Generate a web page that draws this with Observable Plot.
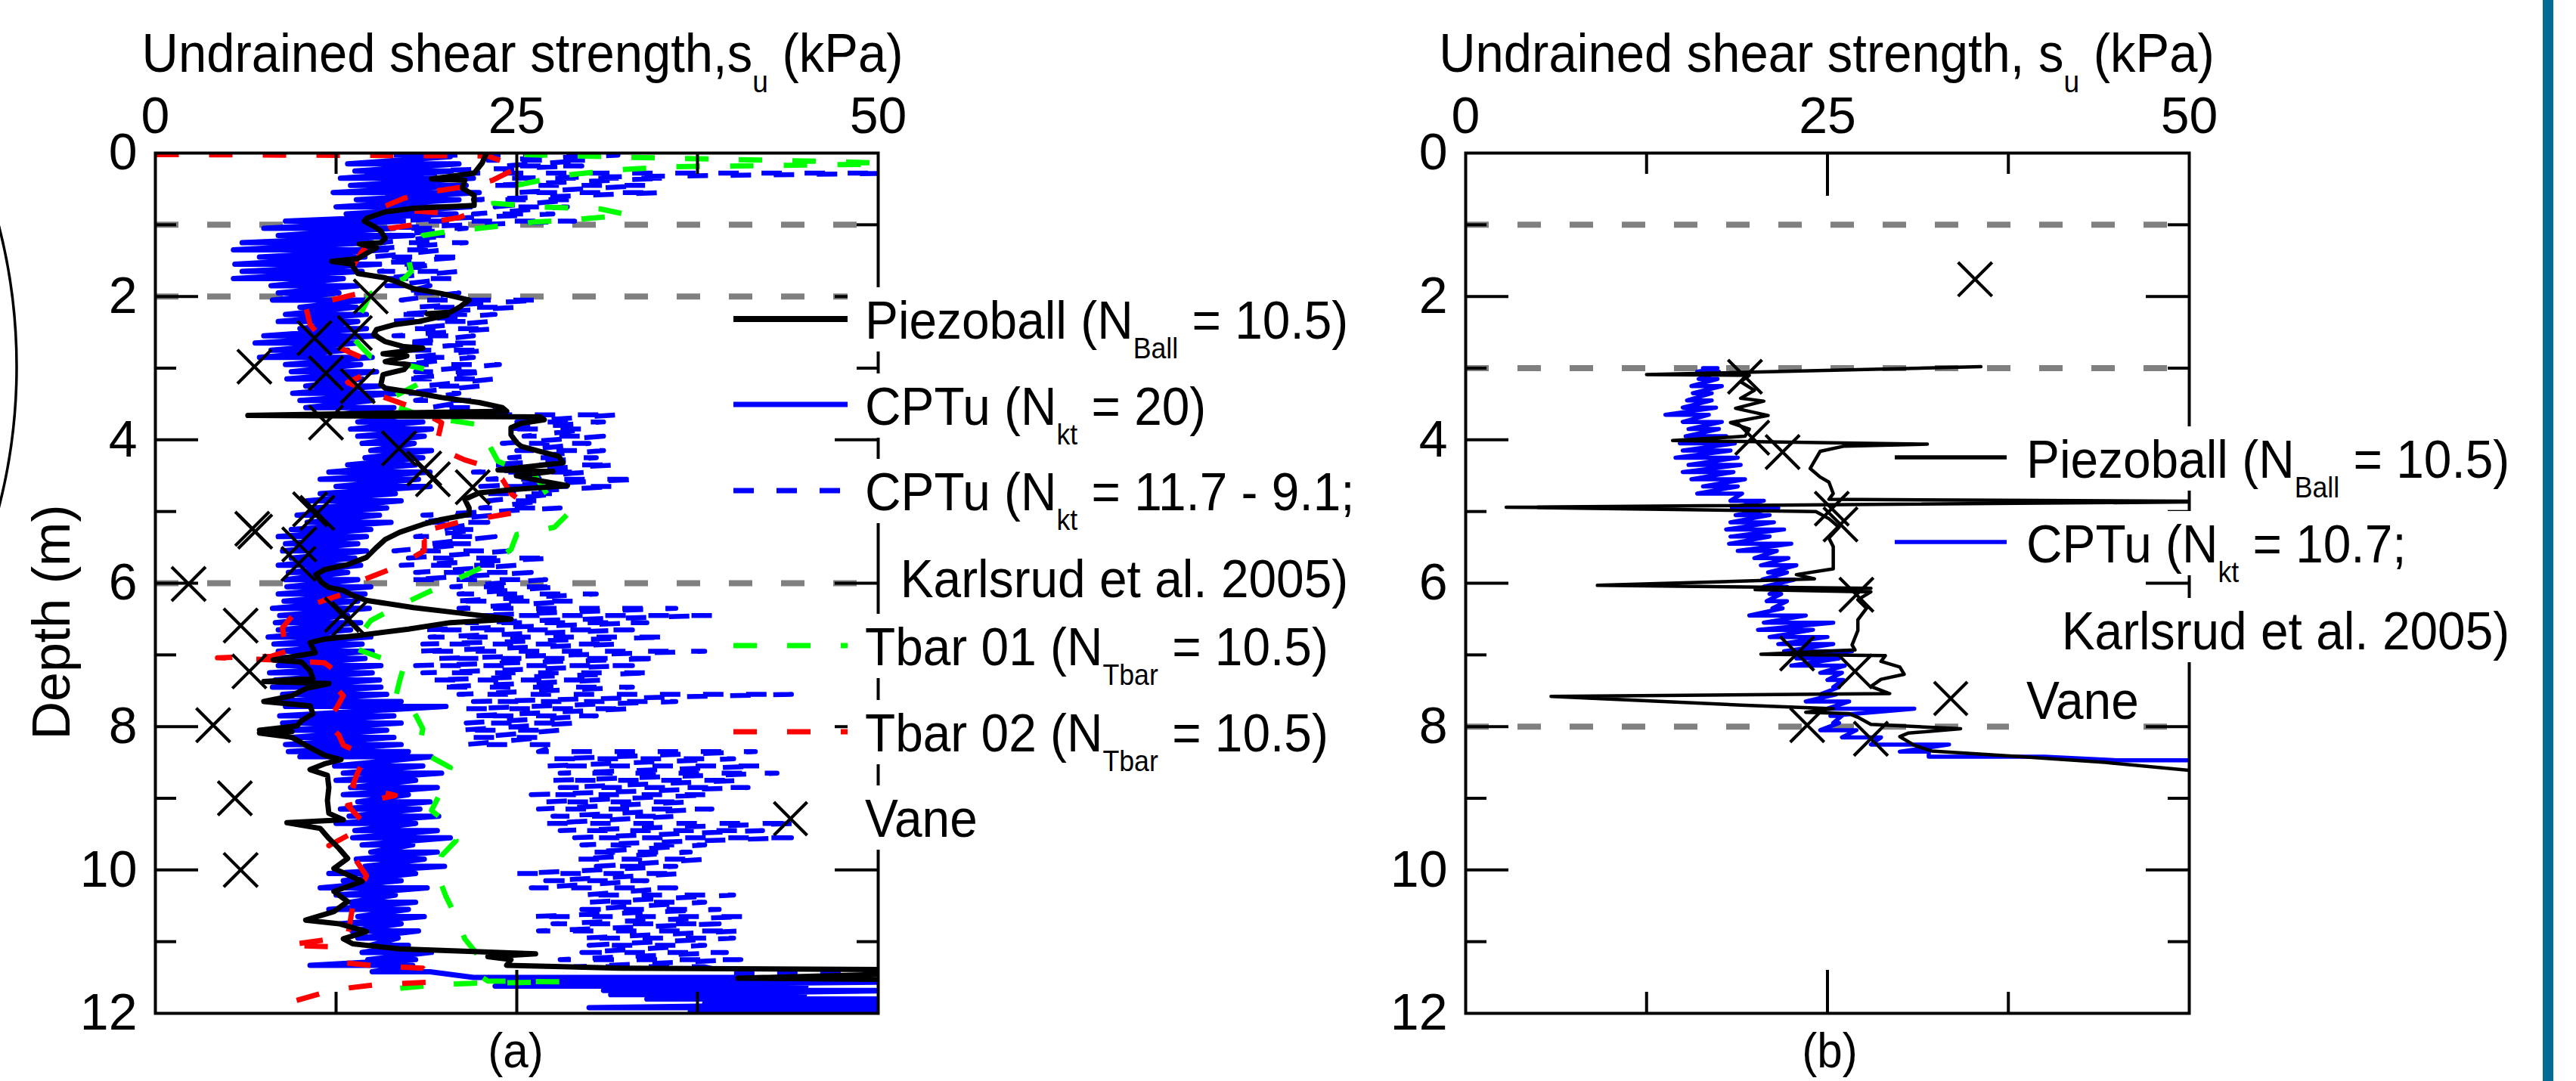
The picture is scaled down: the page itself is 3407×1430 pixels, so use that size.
<!DOCTYPE html>
<html><head><meta charset="utf-8">
<script src="https://cdn.jsdelivr.net/npm/d3@7"></script>
<script src="https://cdn.jsdelivr.net/npm/@observablehq/plot@0.6"></script>
<style>
html,body{margin:0;padding:0;background:#fff;overflow:hidden;}
#wrap{position:relative;width:3407px;height:1430px;overflow:hidden;background:#fff;}
#wrap svg{position:absolute;top:0;left:0;}
</style></head><body><div id="wrap"></div>
<script>
// ---------- tick labels / reference depths ----------
const xTicksMajor = [0, 25, 50];
const xTicksMinor = [12.5, 37.5];
const yTicksMajor = [0, 2, 4, 6, 8, 10, 12];
const yTicksMinor = [1, 3, 5, 7, 9, 11];
const grayDepthsA = [1, 2, 6];
const grayDepthsB = [1, 3, 8];

// ---------- panel (a) ----------
// Piezoball (N_Ball = 10.5): [su kPa, depth m]
const piezoA = [[22.9,0.0],[22.6,0.14],[22.05,0.28],[19.1,0.36],[21.4,0.38],[21.25,0.49],[22.05,0.59],[22.05,0.73],[17.85,0.77],[15.9,0.82],[14.6,0.91],[14.45,0.95],[15.1,1.02],[15.6,1.09],[15.9,1.19],[15.6,1.25],[14.1,1.27],[15.3,1.32],[14.6,1.40],[14.0,1.47],[12.2,1.51],[13.65,1.55],[13.65,1.58],[14.0,1.68],[15.9,1.74],[16.6,1.79],[17.85,1.89],[19.8,1.96],[21.7,2.05],[21.1,2.14],[20.4,2.22],[18.8,2.24],[20.2,2.26],[18.2,2.35],[16.6,2.39],[15.3,2.46],[15.1,2.53],[15.9,2.63],[17.2,2.70],[18.5,2.72],[16.9,2.77],[15.75,2.80],[17.4,2.83],[15.9,2.91],[17.5,2.95],[17.2,3.02],[15.75,3.09],[15.6,3.23],[15.9,3.28],[17.85,3.34],[19.8,3.41],[22.4,3.48],[24.0,3.55],[24.3,3.60],[6.4,3.66],[26.6,3.68],[26.9,3.72],[25.3,3.77],[24.6,3.83],[24.6,3.93],[25.0,4.04],[25.3,4.09],[26.6,4.16],[27.9,4.23],[28.2,4.32],[23.7,4.42],[27.5,4.44],[24.97,4.50],[26.6,4.57],[28.5,4.64],[24.97,4.69],[22.4,4.74],[21.4,4.83],[21.7,4.95],[21.7,5.04],[19.8,5.11],[18.5,5.18],[16.9,5.29],[15.9,5.39],[15.3,5.50],[14.6,5.64],[13.3,5.74],[11.7,5.81],[11.1,5.88],[11.5,5.99],[12.0,6.06],[13.0,6.10],[13.65,6.17],[14.6,6.24],[17.85,6.34],[20.8,6.41],[24.6,6.50],[20.4,6.55],[17.5,6.64],[14.0,6.73],[11.7,6.78],[10.7,6.83],[11.06,6.97],[8.15,7.07],[10.1,7.10],[10.7,7.22],[10.9,7.33],[7.5,7.37],[12.0,7.40],[10.4,7.47],[9.44,7.57],[7.5,7.65],[10.7,7.71],[10.9,7.82],[10.1,7.92],[9.8,7.99],[7.2,8.05],[9.44,8.07],[7.2,8.09],[9.44,8.15],[10.4,8.26],[11.7,8.40],[12.84,8.46],[11.7,8.52],[10.7,8.60],[11.9,8.68],[12.0,8.85],[11.9,9.03],[12.0,9.21],[13.0,9.30],[9.1,9.34],[11.4,9.42],[12.0,9.56],[12.7,9.70],[13.3,9.84],[12.35,9.98],[14.3,10.16],[12.35,10.30],[13.3,10.44],[12.35,10.58],[10.4,10.70],[12.7,10.75],[14.6,10.86],[13.0,10.96],[13.65,11.03],[16.9,11.10],[22.4,11.14],[26.3,11.17],[23.0,11.21],[24.6,11.25],[24.3,11.33],[32.1,11.37],[60,11.40],[40.3,11.51],[60,11.54]];

// CPTu (N_kt = 20): swing readings [depth, low su, high su]
const cptu20A = [[0.05,17.5,20.4],[0.15,13.3,21.0],[0.25,13.8,20.5],[0.35,12.8,22.0],[0.45,13.5,21.5],[0.55,12.3,22.4],[0.65,13.9,21.0],[0.75,12.5,21.8],[0.85,13.2,20.8],[0.95,9.0,17.0],[1.05,7.5,16.5],[1.15,8.5,17.8],[1.25,6.0,15.0],[1.35,5.4,16.0],[1.45,7.2,14.5],[1.55,5.5,15.5],[1.65,6.0,14.3],[1.75,5.4,13.0],[1.85,8.0,14.0],[1.95,8.5,12.7],[2.05,8.1,14.6],[2.15,10.0,13.9],[2.25,9.0,14.6],[2.35,8.5,14.0],[2.45,10.0,14.6],[2.55,7.5,15.3],[2.65,6.9,14.0],[2.75,8.0,13.3],[2.85,7.2,15.0],[2.95,9.0,14.2],[3.05,9.4,15.3],[3.15,9.1,14.3],[3.25,10.4,15.5],[3.35,9.5,16.9],[3.45,10.0,15.0],[3.55,10.4,16.5],[3.65,12.5,17.5],[3.75,14.0,18.5],[3.85,13.5,19.1],[3.95,14.0,18.6],[4.05,14.3,17.9],[4.15,14.9,19.1],[4.25,14.5,18.5],[4.35,13.3,18.0],[4.45,12.0,19.0],[4.55,11.4,18.2],[4.65,12.5,19.0],[4.75,11.4,16.6],[4.85,10.5,17.0],[4.95,11.0,16.0],[5.05,9.8,15.5],[5.15,10.5,16.3],[5.25,9.4,14.9],[5.35,8.5,14.6],[5.45,9.0,14.0],[5.55,8.8,14.6],[5.65,9.4,13.8],[5.75,8.5,14.2],[5.85,9.2,13.3],[5.95,9.0,14.0],[6.05,9.1,14.9],[6.15,8.5,14.5],[6.25,8.9,14.0],[6.35,8.1,14.8],[6.45,8.6,13.3],[6.55,8.3,14.2],[6.65,8.5,13.5],[6.75,7.8,14.9],[6.85,8.2,14.3],[6.95,8.5,15.0],[7.05,8.0,14.5],[7.15,8.5,15.6],[7.25,7.9,15.0],[7.35,8.3,15.5],[7.45,8.1,15.6],[7.55,8.8,16.0],[7.65,8.4,17.0],[7.72,9.0,20.1],[7.85,8.6,16.5],[7.95,8.8,17.0],[8.05,8.8,16.0],[8.15,9.4,16.5],[8.25,9.0,17.0],[8.35,9.2,17.5],[8.42,10.0,19.1],[8.55,12.4,18.5],[8.65,13.0,19.8],[8.75,12.5,18.0],[8.85,13.5,19.5],[8.95,13.0,17.5],[9.05,14.0,19.0],[9.15,12.8,18.3],[9.25,13.4,19.6],[9.35,12.5,18.0],[9.45,13.8,19.5],[9.55,13.65,20.4],[9.65,14.3,17.8],[9.75,14.9,19.5],[9.85,13.9,18.6],[9.95,14.5,20.0],[10.05,12.0,18.0],[10.15,13.0,17.0],[10.25,11.4,18.8],[10.35,12.5,16.6],[10.45,13.5,18.0],[10.55,12.0,17.5],[10.65,14.0,18.6],[10.75,12.8,17.0],[10.85,13.6,18.2],[10.95,14.0,16.8],[11.05,14.9,17.5],[11.15,14.3,19.1],[11.25,14.7,18.0],[11.33,10.7,17.8],[11.42,15.0,19.0],[11.5,22.0,40.0],[11.56,24.0,52.0],[11.62,23.5,45.0],[11.68,31.0,52.0],[11.74,31.5,44.9],[11.8,34.0,52.0],[11.86,38.0,52.0],[11.92,30.0,52.0],[11.98,37.0,52.0]];

// CPTu (N_kt = 11.7 - 9.1; Karlsrud et al. 2005): [depth, low su, high su]
const cptuKarlA = [[0.03,16.5,32.0],[0.1,23.0,30.0],[0.18,24.0,29.5],[0.28,14.0,52.0],[0.35,24.0,35.5],[0.45,23.0,34.0],[0.55,25.0,35.0],[0.65,22.0,29.0],[0.75,23.5,28.5],[0.85,22.0,27.5],[0.95,16.0,29.0],[1.05,15.0,21.5],[1.15,16.0,20.5],[1.25,15.5,21.5],[1.35,14.0,20.0],[1.45,15.0,21.5],[1.55,14.5,19.5],[1.65,15.5,21.0],[1.75,15.5,20.5],[1.85,16.0,19.0],[1.95,17.0,21.0],[2.05,17.0,26.7],[2.15,18.0,25.0],[2.25,16.5,23.5],[2.35,16.0,23.0],[2.45,17.5,23.5],[2.55,16.5,22.0],[2.65,17.0,22.5],[2.75,16.5,23.0],[2.85,17.5,22.0],[2.95,17.0,23.8],[3.05,18.0,23.0],[3.15,17.0,23.5],[3.25,18.5,22.5],[3.35,17.0,21.0],[3.45,18.0,22.0],[3.55,19.0,22.5],[3.65,24.5,32.0],[3.75,25.0,31.0],[3.85,24.0,30.0],[3.95,25.5,31.0],[4.05,24.0,30.0],[4.15,25.0,31.0],[4.25,24.5,30.5],[4.35,23.0,32.0],[4.45,22.0,30.0],[4.55,23.0,33.5],[4.65,22.5,32.0],[4.75,22.5,28.0],[4.85,23.0,27.0],[4.95,22.5,28.0],[5.05,18.5,23.5],[5.15,18.0,23.0],[5.25,19.5,22.5],[5.35,18.0,23.5],[5.45,19.0,22.0],[5.55,16.5,24.5],[5.65,17.5,27.5],[5.75,17.0,25.0],[5.85,18.0,26.0],[5.95,17.5,27.0],[6.05,20.5,28.0],[6.15,21.0,30.5],[6.25,20.5,29.0],[6.35,21.0,36.0],[6.45,22.0,38.5],[6.55,21.5,34.0],[6.65,18.5,33.0],[6.75,19.0,35.5],[6.85,18.5,32.0],[6.95,18.0,38.0],[7.05,19.5,35.0],[7.15,18.0,33.0],[7.25,18.5,34.5],[7.35,19.0,31.0],[7.45,19.5,33.0],[7.55,21.0,44.0],[7.65,22.0,36.0],[7.75,21.5,33.0],[7.85,22.0,30.5],[7.95,21.5,29.0],[8.05,21.0,28.0],[8.15,22.0,27.0],[8.25,21.5,28.0],[8.35,26.5,41.5],[8.45,27.5,40.0],[8.55,27.0,42.0],[8.65,28.0,43.0],[8.75,27.5,40.5],[8.85,28.0,41.0],[8.95,26.0,38.5],[9.05,27.0,37.0],[9.15,26.5,38.5],[9.25,27.5,36.0],[9.35,27.0,44.5],[9.45,28.0,42.0],[9.55,29.0,44.0],[9.65,29.5,38.0],[9.75,30.0,37.0],[9.85,29.0,38.0],[9.95,30.5,36.0],[10.05,25.0,36.5],[10.15,27.0,34.0],[10.25,26.0,36.0],[10.35,29.5,40.0],[10.45,30.0,38.0],[10.55,29.5,39.0],[10.65,26.0,41.0],[10.75,27.5,39.0],[10.85,26.5,40.5],[10.95,29.5,40.0],[11.05,30.0,38.0],[11.15,29.5,39.5],[11.25,28.0,40.5],[11.35,29.0,38.0],[11.45,40.0,60.0]];

// Tbar 01 (N_Tbar = 10.5): [su, depth]
const tbar01A = [[25.5,0.02],[33,0.06],[40,0.09],[47,0.12],[52,0.15],[36,0.19],[32.2,0.23],[28.3,0.31],[25.0,0.45],[23.4,0.60],[23.4,0.70],[26.5,0.75],[30.8,0.78],[32.7,0.86],[29.0,0.93],[26.3,0.96],[22.4,1.05],[20.4,1.09],[18.5,1.15],[17.8,1.30],[17.5,1.47],[17.7,1.65],[17.2,1.75],[14.9,1.96],[14.2,2.24],[13.65,2.58],[14.9,2.84],[19.2,3.04],[18.1,3.23],[15.8,3.47],[18.5,3.67],[22.4,3.79],[23.0,4.04],[23.7,4.30],[26.3,4.51],[27.2,4.79],[28.5,5.04],[27.6,5.22],[25.0,5.32],[24.6,5.53],[23.0,5.74],[21.1,5.92],[18.8,6.13],[16.9,6.31],[14.9,6.52],[14.0,6.76],[13.65,6.90],[15.6,7.04],[17.2,7.15],[16.9,7.36],[16.6,7.61],[17.85,7.78],[18.5,8.03],[18.2,8.33],[20.4,8.57],[19.8,8.89],[19.1,9.17],[20.4,9.38],[20.8,9.59],[19.8,9.80],[19.5,10.05],[20.1,10.37],[20.8,10.65],[21.4,10.96],[22.4,11.21],[22.05,11.42],[23.0,11.55],[28.0,11.56],[22.0,11.58],[19.8,11.60],[16.9,11.65],[16.2,11.9]];

// Tbar 02 (N_Tbar = 10.5): [su, depth]
const tbar02A = [[0,0.02],[23.0,0.04],[23.4,0.07],[25.2,0.20],[24.3,0.28],[23.3,0.38],[22.0,0.45],[19.1,0.54],[17.2,0.63],[15.9,0.74],[17.5,0.80],[21.5,0.86],[21.0,0.90],[18.5,0.98],[16.2,1.05],[15.0,1.20],[14.2,1.40],[13.6,1.60],[13.65,1.68],[14.0,1.96],[10.4,2.14],[10.7,2.39],[11.7,2.63],[13.0,2.74],[14.6,2.88],[14.9,3.05],[13.3,3.20],[15.3,3.37],[17.85,3.55],[19.8,3.76],[19.5,4.02],[19.6,4.12],[21.4,4.28],[22.7,4.36],[24.0,4.55],[24.6,4.75],[25.6,4.90],[25.3,5.0],[21.0,5.15],[18.0,5.30],[18.6,5.40],[18.6,5.55],[16.6,5.78],[14.4,5.95],[13.0,6.15],[10.8,6.30],[9.5,6.45],[8.8,6.62],[8.9,6.78],[9.8,6.90],[8.0,7.02],[4.3,7.04],[8.2,7.07],[11.7,7.11],[12.7,7.26],[12.35,7.43],[13.0,7.57],[12.5,7.75],[11.7,7.92],[12.5,8.08],[12.7,8.12],[13.0,8.26],[14.6,8.40],[14.0,8.64],[13.65,8.82],[16.6,8.96],[13.3,9.10],[14.6,9.38],[12.0,9.66],[13.65,9.80],[14.6,10.08],[13.65,10.51],[13.3,10.93],[9.1,11.05],[12.0,11.07],[12.35,11.28],[14.9,11.33],[18.5,11.37],[19.5,11.56],[15.3,11.60],[12.35,11.67],[9.4,11.84],[9.6,11.95]];

// Vane: [su, depth]
const vaneA = [[14.9,2.0],[11.0,2.58],[13.8,2.51],[6.85,2.98],[11.8,3.07],[14.0,3.25],[11.8,3.76],[16.85,4.12],[18.6,4.40],[19.2,4.55],[21.95,4.66],[10.7,4.97],[11.2,5.02],[6.7,5.24],[6.9,5.28],[9.95,5.46],[9.9,5.73],[2.3,6.01],[12.9,6.44],[13.4,6.50],[5.9,6.59],[6.5,7.23],[4.0,7.98],[5.5,9.0],[5.9,10.0]];

// ---------- panel (b) ----------
const piezoB = [[35.6,2.98],[12.5,3.09],[19.6,3.10],[19.0,3.19],[19.95,3.31],[19.0,3.42],[20.6,3.46],[18.65,3.56],[20.9,3.66],[18.3,3.76],[19.6,3.85],[19.3,3.95],[14.3,4.01],[31.9,4.06],[26.1,4.09],[24.5,4.16],[24.15,4.28],[23.8,4.40],[24.5,4.52],[25.1,4.59],[25.4,4.75],[25.1,4.83],[55,4.86],[2.8,4.94],[24.2,5.00],[25.1,5.10],[25.8,5.22],[25.1,5.37],[25.4,5.49],[25.4,5.69],[25.4,5.80],[22.85,5.88],[24.1,5.94],[9.1,6.03],[28.0,6.07],[20.0,6.09],[28.0,6.12],[27.1,6.23],[27.7,6.35],[27.1,6.51],[27.1,6.66],[26.7,6.86],[26.9,6.93],[20.4,6.99],[29.0,7.01],[28.7,7.09],[30.0,7.17],[30.3,7.27],[28.7,7.34],[28.0,7.44],[29.3,7.54],[5.9,7.58],[12.5,7.64],[19.0,7.70],[25.4,7.75],[23.5,7.80],[26.5,7.82],[27.1,7.87],[28.0,7.97],[34.2,8.03],[30.6,8.09],[30.0,8.14],[31.0,8.26],[32.2,8.34],[38.4,8.42],[44.2,8.50],[50.0,8.61],[52,8.65]];

// CPTu (N_kt = 10.7): [depth, low su, high su]
const cptuB = [[3.0,16.4,17.4],[3.05,16.0,17.5],[3.15,16.1,17.4],[3.25,15.6,17.7],[3.35,15.7,17.0],[3.45,15.3,17.0],[3.55,15.0,17.3],[3.65,13.8,16.8],[3.75,15.0,17.7],[3.85,15.4,17.5],[3.95,15.2,18.0],[4.05,14.8,18.6],[4.15,15.0,18.3],[4.25,14.5,18.8],[4.35,15.4,19.0],[4.45,15.0,18.5],[4.55,15.6,19.3],[4.65,16.4,18.8],[4.75,16.0,19.1],[4.85,18.3,20.6],[4.95,18.4,21.6],[5.05,18.65,21.0],[5.15,18.3,21.3],[5.25,18.0,22.0],[5.35,18.3,21.0],[5.45,18.2,22.5],[5.55,18.8,21.5],[5.65,19.95,22.3],[5.75,20.4,22.85],[5.85,20.9,22.2],[5.95,20.5,22.7],[6.05,20.6,22.2],[6.15,21.0,21.8],[6.25,20.8,22.2],[6.35,21.2,21.9],[6.45,19.6,23.5],[6.55,20.6,25.4],[6.65,20.2,24.0],[6.75,21.0,25.0],[6.85,21.6,25.4],[6.95,22.0,26.7],[7.05,22.85,25.8],[7.15,22.5,26.2],[7.25,24.5,26.0],[7.35,25.0,26.1],[7.45,25.4,25.8],[7.55,24.5,25.6],[7.65,23.5,26.5],[7.75,25.0,31.0],[7.85,25.2,26.0],[7.95,25.4,25.8],[8.05,24.5,27.0],[8.15,26.0,28.7],[8.25,28.0,33.4],[8.35,30.0,32.0],[8.42,32.0,40.0],[8.47,45.0,52.0]];

const vaneB = [[35.2,1.76],[19.3,3.12],[19.8,3.97],[21.9,4.17],[25.3,4.96],[25.9,5.18],[27.0,6.16],[22.9,6.98],[26.9,7.23],[23.6,7.98],[28.0,8.17]];

// ---------- layout / style ----------
const W = 3407, H = 1430;
const FONT = "'Liberation Sans', Arial, Helvetica, sans-serif";
const frameTop = 202, frameBottom = 1340;
const BLUE = "#0000ff", GREEN = "#00ff00", RED = "#ff0000", GRAY = "#808080";
const MAJOR = 57, MINOR = 28;
const wrap = document.getElementById("wrap");
const zig = rows => rows.flatMap(([d, lo, hi]) => [[lo, d], [hi, d]]);

function panel(left, right, gray, lines, vane) {
  const pxPerM = (frameBottom - frameTop) / 12;
  const pxPerK = (right - left) / 50;
  const innerX = xTicksMajor.filter(v => v > 0 && v < 50);
  const innerY = yTicksMajor.filter(v => v > 0 && v < 12);
  const tk = {stroke: "black", strokeWidth: 4, strokeLinecap: "butt"};
  const lineMarks = lines.map(s => Plot.line(s.data, {
    x: d => d[0], y: d => d[1], stroke: s.stroke, strokeWidth: s.sw,
    strokeDasharray: s.dash, strokeLinecap: s.dash ? "butt" : "round", strokeLinejoin: "round", clip: true
  }));
  return Plot.plot({
    width: W, height: H,
    marginLeft: left, marginRight: W - right, marginTop: frameTop, marginBottom: H - frameBottom,
    x: {domain: [0, 50], axis: "top", ticks: xTicksMajor, tickSize: 0, tickPadding: 27, label: null},
    y: {domain: [0, 12], reverse: true, ticks: yTicksMajor, tickSize: 0, tickPadding: 24, label: null},
    style: {background: "transparent", fontFamily: FONT, fontSize: "68px", color: "black", overflow: "visible"},
    marks: [
      Plot.ruleY(gray, {stroke: GRAY, strokeWidth: 8, strokeDasharray: "31,38", strokeLinecap: "butt"}),
      ...lineMarks,
      Plot.dot(vane, {x: d => d[0], y: d => d[1], symbol: "times", r: 20.5, stroke: "black", strokeWidth: 4.2}),
      Plot.ruleX(innerX, {y1: 0, y2: MAJOR / pxPerM, ...tk}),
      Plot.ruleX(innerX, {y1: 12, y2: 12 - MAJOR / pxPerM, ...tk}),
      Plot.ruleX(xTicksMinor, {y1: 0, y2: MINOR / pxPerM, ...tk}),
      Plot.ruleX(xTicksMinor, {y1: 12, y2: 12 - MINOR / pxPerM, ...tk}),
      Plot.ruleY(innerY, {x1: 0, x2: MAJOR / pxPerK, ...tk}),
      Plot.ruleY(innerY, {x1: 50, x2: 50 - MAJOR / pxPerK, ...tk}),
      Plot.ruleY(yTicksMinor, {x1: 0, x2: MINOR / pxPerK, ...tk}),
      Plot.ruleY(yTicksMinor, {x1: 50, x2: 50 - MINOR / pxPerK, ...tk}),
      Plot.frame({stroke: "black", strokeWidth: 4})
    ]
  });
}

wrap.appendChild(panel(205, 1161, grayDepthsA, [
  {data: zig(cptuKarlA), stroke: BLUE, sw: 6.5, dash: "27,30"},
  {data: zig(cptu20A), stroke: BLUE, sw: 7},
  {data: tbar01A, stroke: GREEN, sw: 7, dash: "31,40"},
  {data: tbar02A, stroke: RED, sw: 7, dash: "31,40"},
  {data: piezoA, stroke: "black", sw: 7}
], vaneA));

wrap.appendChild(panel(1938, 2895, grayDepthsB, [
  {data: zig(cptuB), stroke: BLUE, sw: 5.5},
  {data: piezoB, stroke: "black", sw: 4.5}
], vaneB));

// ---------- overlay: titles, labels, legends ----------
const ov = d3.select(wrap).append("svg").attr("width", W).attr("height", H).attr("font-family", FONT);
const gBox = ov.append("g");
const gTxt = ov.append("g");

function rich(x, y, parts, {size = 70, sub = 38, shift = 26, anchor = "start", sx = 0.94} = {}) {
  const t = gTxt.append("text").attr("transform", `translate(${x},${y}) scale(${sx},1)`)
    .attr("text-anchor", anchor).attr("font-size", size).attr("fill", "black");
  let down = false;
  for (const p of parts) {
    if (typeof p === "string") { const s = t.append("tspan").text(p); if (down) s.attr("dy", -shift); down = false; }
    else { t.append("tspan").attr("font-size", sub).attr("dy", shift).text(p.sub); down = true; }
  }
  const bb = t.node().getBBox();
  return {left: x + bb.x * sx, right: x + (bb.x + bb.width) * sx};
}
function box(x0, x1, base) {
  gBox.append("rect").attr("x", x0).attr("y", base - 68).attr("width", x1 - x0).attr("height", 85).attr("fill", "white");
}
function swatch(x0, x1, y, stroke, sw, dash) {
  gTxt.append("line").attr("x1", x0).attr("x2", x1).attr("y1", y).attr("y2", y)
    .attr("stroke", stroke).attr("stroke-width", sw).attr("stroke-dasharray", dash || null);
}
function cross(cx, cy) {
  const r = 22;
  gTxt.append("path").attr("d", `M${cx - r},${cy - r}L${cx + r},${cy + r}M${cx - r},${cy + r}L${cx + r},${cy - r}`)
    .attr("stroke", "black").attr("stroke-width", 4.2).attr("fill", "none");
}
function entry(x, base, parts, boxLeft) {
  const e = rich(x, base, parts);
  box(boxLeft, e.right + 5, base);
  return e;
}

// titles
rich(691, 95, ["Undrained shear strength,s", {sub: "u"}, " (kPa)"], {size: 72, sub: 40, shift: 27, anchor: "middle", sx: 0.93});
rich(2416, 95, ["Undrained shear strength, s", {sub: "u"}, " (kPa)"], {size: 72, sub: 40, shift: 27, anchor: "middle", sx: 0.93});
gTxt.append("text").attr("transform", "translate(92,823) rotate(-90)").attr("text-anchor", "middle").attr("font-size", 70).text("Depth (m)");
rich(682, 1412, ["(a)"], {size: 64, anchor: "middle", sx: 0.94});
rich(2420, 1412, ["(b)"], {size: 64, anchor: "middle", sx: 0.94});

// legend (a)
const LA = {x0: 970, x1: 1121, tx: 1144};
swatch(LA.x0, LA.x1, 422, "black", 8);
const eA1 = entry(LA.tx, 448, ["Piezoball (N", {sub: "Ball"}, " = 10.5)"], LA.x1);
swatch(LA.x0, LA.x1, 535, BLUE, 7);
entry(LA.tx, 562, ["CPTu (N", {sub: "kt"}, " = 20)"], LA.x1);
swatch(LA.x0, LA.x1, 649, BLUE, 7, "27,30");
entry(LA.tx, 675, ["CPTu (N", {sub: "kt"}, " = 11.7 - 9.1;"], LA.x1);
{ const k = rich(eA1.right, 790, ["Karlsrud et al. 2005)"], {anchor: "end"}); box(k.left - 8, k.right + 5, 790); }
swatch(LA.x0, LA.x1, 854, GREEN, 7, "31,40");
entry(LA.tx, 880, ["Tbar 01 (N", {sub: "Tbar"}, " = 10.5)"], LA.x1);
swatch(LA.x0, LA.x1, 968, RED, 7, "31,40");
entry(LA.tx, 994, ["Tbar 02 (N", {sub: "Tbar"}, " = 10.5)"], LA.x1);
cross((LA.x0 + LA.x1) / 2, 1083);
entry(LA.tx, 1107, ["Vane"], LA.x1);

// legend (b)
const LB = {x0: 2506, x1: 2654, tx: 2680};
swatch(LB.x0, LB.x1, 605, "black", 5.5);
const eB1 = entry(LB.tx, 632, ["Piezoball (N", {sub: "Ball"}, " = 10.5)"], LB.x1 + 3);
swatch(LB.x0, LB.x1, 717, BLUE, 5.5);
entry(LB.tx, 744, ["CPTu (N", {sub: "kt"}, " = 10.7;"], LB.x1 + 3);
{ const k = rich(eB1.right, 859, ["Karlsrud et al. 2005)"], {anchor: "end"}); box(k.left - 8, k.right + 5, 859); }
cross((LB.x0 + LB.x1) / 2, 924);
entry(LB.tx, 951, ["Vane"], LB.x1 + 3);

// page decorations: cropped outline at left edge and coloured bar at right edge
ov.append("circle").attr("cx", -725).attr("cy", 485).attr("r", 747).attr("fill", "none").attr("stroke", "black").attr("stroke-width", 3.5);
ov.append("rect").attr("x", 3363).attr("y", 0).attr("width", 14).attr("height", H).attr("fill", "#006b93");
</script></body></html>
